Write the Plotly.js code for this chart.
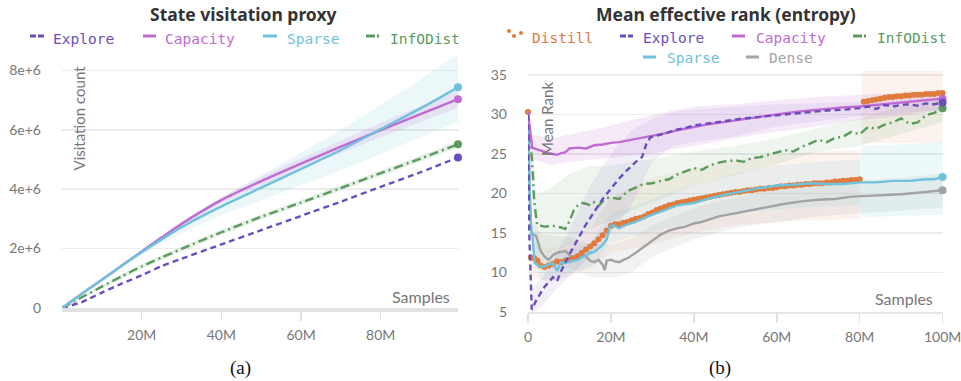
<!DOCTYPE html>
<html><head><meta charset="utf-8">
<script src="https://cdn.plot.ly/plotly-3.0.1.min.js"></script>
<style>html,body{margin:0;padding:0;background:#fff}#chart{width:961px;height:381px}</style>
</head><body><div id="chart"></div>
<script>
// ---------- (a) State visitation proxy : x in millions of samples, y in millions of visits ----------
const aX = [0, 5, 10, 15, 20, 25, 30, 40, 50, 60, 70, 80, 90, 99.4];
const aExplore  = [0, 0.2, 0.52, 0.82, 1.1, 1.41, 1.66, 2.14, 2.62, 3.1, 3.58, 4.08, 4.57, 5.07];
const aInfODist = [0, 0.36, 0.72, 1.07, 1.4, 1.7, 1.99, 2.55, 3.07, 3.55, 4.04, 4.54, 5.03, 5.51];
const aCapacity = [0, 0.48, 0.95, 1.43, 1.9, 2.37, 2.83, 3.63, 4.27, 4.86, 5.43, 5.99, 6.53, 7.03];
const aSparse   = [0, 0.48, 0.95, 1.42, 1.88, 2.31, 2.72, 3.42, 4.05, 4.68, 5.32, 6.02, 6.72, 7.43];
const aSparseHi = [0, 0.49, 0.98, 1.48, 1.98, 2.45, 2.92, 3.72, 4.47, 5.23, 6.0, 6.84, 7.69, 8.58];
const aSparseLo = [0, 0.47, 0.92, 1.36, 1.78, 2.17, 2.52, 3.12, 3.63, 4.13, 4.64, 5.2, 5.75, 6.28];
const aCapHi    = [0, 0.49, 0.97, 1.46, 1.95, 2.43, 2.91, 3.74, 4.42, 5.04, 5.64, 6.23, 6.8, 7.33];
const aCapLo    = [0, 0.47, 0.93, 1.4, 1.85, 2.31, 2.75, 3.52, 4.12, 4.68, 5.22, 5.75, 6.26, 6.73];
const aInfHi    = [0, 0.4, 0.78, 1.14, 1.48, 1.78, 2.07, 2.64, 3.16, 3.64, 4.13, 4.64, 5.13, 5.62];
const aInfLo    = [0, 0.32, 0.66, 1.0, 1.32, 1.62, 1.91, 2.46, 2.98, 3.46, 3.95, 4.44, 4.93, 5.4];
const aXTicks = [20, 40, 60, 80];
const aXTickText = ['20M', '40M', '60M', '80M'];
const aYTicks = [0, 2, 4, 6, 8];
const aYTickText = ['0', '2e+6', '4e+6', '6e+6', '8e+6'];

// ---------- (b) Mean effective rank (entropy) : x in millions of samples ----------
const bCapX = [0, 1, 2, 3, 4, 5, 6, 7, 8, 9, 10, 12, 14, 16, 18, 20, 22, 24, 26, 28, 30, 33, 36, 40, 44, 48, 52, 56, 60, 64, 68, 72, 76, 80, 84, 88, 92, 96, 100];
const bCapacity = [30.3, 25.8, 25.6, 25.4, 25.2, 25.1, 25.0, 24.9, 25.1, 25.2, 25.7, 25.8, 25.7, 26.1, 26.2, 26.4, 26.5, 26.7, 26.9, 27.1, 27.3, 27.6, 28.0, 28.4, 28.8, 29.1, 29.4, 29.7, 30.0, 30.3, 30.5, 30.7, 30.9, 31.0, 31.2, 31.4, 31.6, 31.8, 32.0];

const bExpX = [0, 0.3, 0.9, 2, 4, 6, 7, 8, 10, 12, 14, 16, 18, 20, 22, 24, 26, 27.5, 28.5, 29.5, 31, 33, 36, 38, 40, 44, 48, 52, 56, 60, 64, 68, 72, 76, 80, 82, 84, 86, 88, 90, 92, 94, 96, 98, 100];
const bExplore = [30, 15, 5.3, 6.5, 8.2, 9.4, 8.9, 10.2, 12.3, 14.3, 16.1, 17.7, 19.3, 20.6, 21.9, 23.0, 24.0, 24.6, 26.2, 27.1, 27.3, 27.6, 28.1, 28.3, 28.6, 28.9, 29.2, 29.5, 29.7, 29.9, 30.1, 30.3, 30.5, 30.6, 30.8, 31.0, 30.7, 31.2, 31.0, 31.2, 31.3, 31.1, 31.4, 31.3, 31.5];

const bInfX = [0, 0.5, 1, 1.5, 2.2, 4, 6, 8, 9, 10, 11, 12, 13, 14, 15, 16, 17, 18, 19, 20, 22, 24, 26, 28, 30, 32, 34, 36, 38, 40, 42, 44, 46, 48, 50, 52, 54, 56, 58, 60, 62, 64, 66, 68, 70, 72, 74, 76, 78, 80, 82, 84, 86, 88, 90, 92, 94, 96, 98, 100];
const bInfODist = [30, 27, 24, 19, 16.0, 15.8, 15.9, 15.7, 15.5, 16.5, 17.8, 18.5, 18.8, 18.7, 18.5, 18.9, 18.4, 19.0, 19.4, 19.5, 19.3, 20.3, 20.7, 21.2, 21.3, 21.6, 21.8, 22.4, 22.8, 23.2, 23.0, 23.6, 23.9, 24.1, 24.2, 24.0, 24.5, 24.6, 24.9, 25.2, 25.5, 25.3, 25.9, 26.3, 26.8, 26.5, 27.0, 27.2, 27.8, 27.5, 28.4, 28.2, 28.7, 29.0, 29.5, 28.8, 29.0, 29.9, 30.2, 30.8];

const bSpX = [0, 0.4, 0.8, 1.1, 1.6, 3, 4, 5, 6, 7, 8, 9, 10, 11, 12, 13, 14, 15, 16, 17, 18, 19, 19.7, 20.5, 22, 24, 26, 28, 30, 32, 34, 36, 40, 44, 48, 52, 56, 60, 64, 68, 72, 76, 80, 84, 88, 92, 96, 98, 100];
const bSparse = [30, 20, 15, 14.6, 11.2, 10.7, 10.8, 11.0, 11.2, 10.2, 11.3, 11.2, 11.4, 11.5, 11.6, 11.9, 12.1, 12.5, 12.6, 13.0, 13.5, 14.2, 15.8, 16.0, 15.6, 16.1, 16.4, 16.9, 17.3, 17.7, 18.1, 18.5, 18.8, 19.4, 19.9, 20.3, 20.7, 21.0, 21.1, 21.3, 21.2, 21.2, 21.4, 21.4, 21.6, 21.6, 21.8, 21.8, 22.1];

const bDenseX = [0, 0.4, 0.8, 2, 3, 4, 5, 6, 7, 8, 9, 10, 11, 12, 13, 14, 15, 16, 17, 18, 18.5, 19, 20, 21, 22, 23, 24, 26, 28, 30, 32, 34, 36, 38, 40, 42, 44, 46, 48, 50, 54, 58, 62, 66, 70, 74, 78, 82, 86, 90, 94, 98, 100];
const bDense = [30, 20, 15, 14.6, 12.8, 12.0, 11.6, 12.2, 12.5, 12.6, 12.7, 12.2, 11.8, 11.6, 12.3, 12.0, 11.5, 11.3, 11.6, 11.0, 10.3, 11.5, 11.6, 11.4, 11.3, 11.6, 11.8, 12.5, 13.3, 14.1, 14.8, 15.3, 15.6, 15.8, 16.2, 16.4, 16.8, 17.1, 17.3, 17.5, 17.9, 18.3, 18.7, 19.0, 19.2, 19.3, 19.6, 19.7, 19.8, 19.9, 20.1, 20.3, 20.4];

const bDistX = [0, 0.7, 1.5, 2.3, 3, 4, 5, 6, 7, 8, 9, 10, 11, 12, 13, 14, 15, 16, 17, 18, 19, 20, 21, 22, 23, 24, 25, 26, 27, 28, 29, 30, 31, 32, 33, 34, 35, 36, 37, 38, 39, 40, 41, 42, 43, 44, 45, 46, 47, 48, 49, 50, 51, 52, 53, 54, 55, 56, 57, 58, 59, 60, 61, 62, 63, 64, 65, 66, 67, 68, 69, 70, 71, 72, 73, 74, 75, 76, 77, 78, 79, 80,
  81, 82, 83, 84, 85, 86, 87, 88, 89, 90, 91, 92, 93, 94, 95, 96, 97, 98, 99, 100];
const bDistill = [30.3, 11.9, 11.8, 11.5, 10.9, 10.7, 10.9, 11.1, 11.4, 11.3, 11.5, 11.6, 11.8, 12.1, 12.5, 12.9, 13.3, 13.7, 14.2, 14.7, 15.3, 15.9, 16.1, 16.1, 16.3, 16.4, 16.6, 16.8, 16.9, 17.1, 17.4, 17.6, 17.9, 18.1, 18.3, 18.5, 18.6, 18.8, 18.9, 19.0, 19.1, 19.2, 19.3, 19.4, 19.5, 19.6, 19.7, 19.8, 19.9, 20.0, 20.1, 20.2, 20.2, 20.3, 20.4, 20.4, 20.5, 20.6, 20.6, 20.7, 20.7, 20.8, 20.9, 20.9, 21.0, 21.0, 21.1, 21.1, 21.2, 21.2, 21.3, 21.3, 21.3, 21.4, 21.4, 21.5, 21.5, 21.6, 21.6, 21.7, 21.7, 21.8,
  31.6, 31.7, 31.8, 31.9, 32.0, 32.1, 32.2, 32.2, 32.3, 32.3, 32.4, 32.4, 32.5, 32.5, 32.5, 32.6, 32.6, 32.6, 32.7, 32.7];

// bands (upper / lower edges)
const bCapBX = [0, 1, 3, 6, 10, 15, 20, 25, 30, 35, 40, 50, 60, 70, 80, 90, 100];
const bCapHi = [30.3, 27.5, 27.2, 27.0, 27.5, 28.0, 28.6, 29.3, 29.9, 30.5, 31.0, 31.3, 31.8, 32.2, 32.5, 32.7, 33.0];
const bCapLo = [30.3, 24.3, 24.0, 23.6, 24.0, 24.3, 24.5, 24.8, 25.1, 25.6, 26.0, 27.0, 27.8, 28.5, 29.3, 29.8, 30.6];
const bExpBX = [0, 1, 3, 6, 10, 15, 20, 25, 30, 35, 40, 50, 60, 80, 100];
const bExpHi = [30, 8, 9, 11.5, 15.5, 21, 25, 28, 29.5, 30.3, 30.6, 31, 31.3, 31.6, 32.3];
const bExpLo = [30, 4.8, 5.5, 7.5, 9.5, 12, 15, 18.5, 24, 26, 26.5, 27.2, 28.5, 29.8, 30.6];
const bInfBX = [0, 1, 2, 5, 10, 15, 20, 25, 30, 40, 50, 60, 70, 80, 90, 100];
const bInfHi = [30, 27, 20, 20.5, 22.5, 23.5, 23.5, 24, 24.3, 25.3, 26, 27, 28.3, 29.5, 31, 32];
const bInfLo = [30, 20, 13, 12.5, 13.5, 15.5, 16.5, 17.8, 18.8, 21, 22.3, 23.7, 25.3, 26, 27.5, 29];
const bSpBX = [0, 1, 3, 10, 15, 20, 25, 30, 40, 50, 60, 70, 80, 80.5, 90, 100];
const bSpHi = [30, 16, 12.5, 13, 13.8, 17.5, 18.3, 19.3, 21, 22.5, 23.5, 24, 24.3, 26, 26.2, 26.5];
const bSpLo = [30, 13, 9, 9.8, 10.8, 13.8, 14.5, 15.2, 16.3, 17.5, 18, 18.3, 18.5, 17, 17.1, 17.3];
const bDenBX = [0, 1, 3, 10, 15, 20, 25, 30, 40, 50, 60, 70, 80, 90, 100];
const bDenHi = [30, 17, 14.8, 14.5, 13.5, 13.5, 14.3, 16.0, 18.2, 19.5, 20.6, 21.2, 21.6, 22.0, 22.5];
const bDenLo = [30, 13, 10.5, 10.5, 9.5, 9.3, 10.0, 12.0, 14.2, 15.6, 16.4, 17.1, 17.5, 17.8, 18.2];
const bDisBX = [0.7, 5, 10, 15, 20, 30, 40, 50, 60, 70, 80];
const bDisHi = [13.5, 13.0, 13.5, 15.5, 19.5, 22.0, 23.2, 24.2, 25.0, 25.3, 25.5];
const bDisLo = [9.5, 8.8, 9.5, 10.5, 12.5, 13.5, 15.0, 16.0, 16.4, 16.6, 16.8];
const bDisBX2 = [80.5, 100];
const bDisHi2 = [37, 37];
const bDisLo2 = [26.4, 26.4];

const bXTicks = [0, 20, 40, 60, 80, 100];
const bXTickText = ['0', '20M', '40M', '60M', '80M', '100M'];
const bYTicks = [5, 10, 15, 20, 25, 30, 35];

// ---------- styling ----------
const C = {explore:'#6a4fbc', capacity:'#c06bd1', sparse:'#6ec2db', infodist:'#5b9b5e', distill:'#e07b3e', dense:'#a3a3a6'};
const W = 961, H = 381;
const px = v => v / W, py = v => 1 - v / H;
function rgba(hex, a){const n=parseInt(hex.slice(1),16);return `rgba(${n>>16},${(n>>8)&255},${n&255},${a})`;}
const DASH_EXP = '6px,4px', DASH_INF = '9px,4px,2px,4px';

const traces = [];
function band(x, hi, lo, col, a, xa, ya){
  traces.push({x: x.concat(x.slice().reverse()), y: hi.concat(lo.slice().reverse()), fill:'toself', mode:'lines',
    line:{width:0}, fillcolor: rgba(col, a), hoverinfo:'skip', showlegend:false, xaxis:xa, yaxis:ya});
}
function line(x, y, col, dash, xa, ya, shape){
  traces.push({x, y, mode:'lines', line:{color:col, width:2.4, dash:dash||'solid', shape:shape||'linear', smoothing:0.6}, showlegend:false, xaxis:xa, yaxis:ya});
}
function endDot(x, y, col, xa, ya){
  traces.push({x:[x[x.length-1]], y:[y[y.length-1]], mode:'markers', marker:{color:col, size:8}, cliponaxis:false, showlegend:false, xaxis:xa, yaxis:ya});
}

// (a)
band(aX, aSparseHi, aSparseLo, C.sparse, 0.13, 'x', 'y');
band(aX, aCapHi, aCapLo, C.capacity, 0.15, 'x', 'y');
band(aX, aInfHi, aInfLo, C.infodist, 0.15, 'x', 'y');
line(aX, aExplore, C.explore, DASH_EXP, 'x', 'y', 'spline');
line(aX, aInfODist, C.infodist, DASH_INF, 'x', 'y', 'spline');
line(aX, aCapacity, C.capacity, 'solid', 'x', 'y', 'spline');
line(aX, aSparse, C.sparse, 'solid', 'x', 'y', 'spline');
endDot(aX, aExplore, C.explore, 'x', 'y');
endDot(aX, aInfODist, C.infodist, 'x', 'y');
endDot(aX, aCapacity, C.capacity, 'x', 'y');
endDot(aX, aSparse, C.sparse, 'x', 'y');

// (b)
band(bDisBX, bDisHi, bDisLo, C.distill, 0.09, 'x2', 'y2');
band(bDisBX2, bDisHi2, bDisLo2, C.distill, 0.09, 'x2', 'y2');
band(bDenBX, bDenHi, bDenLo, C.dense, 0.14, 'x2', 'y2');
band(bSpBX, bSpHi, bSpLo, C.sparse, 0.12, 'x2', 'y2');
band(bInfBX, bInfHi, bInfLo, C.infodist, 0.1, 'x2', 'y2');
band(bExpBX, bExpHi, bExpLo, C.explore, 0.09, 'x2', 'y2');
band(bCapBX, bCapHi, bCapLo, C.capacity, 0.14, 'x2', 'y2');
line(bDenseX, bDense, C.dense, 'solid', 'x2', 'y2');
traces.push({x:bDistX, y:bDistill, mode:'markers', marker:{color:C.distill, size:6}, cliponaxis:false, showlegend:false, xaxis:'x2', yaxis:'y2'});
line(bSpX, bSparse, C.sparse, 'solid', 'x2', 'y2');
line(bInfX, bInfODist, C.infodist, DASH_INF, 'x2', 'y2');
line(bCapX, bCapacity, C.capacity, 'solid', 'x2', 'y2');
line(bExpX, bExplore, C.explore, DASH_EXP, 'x2', 'y2');
endDot(bDenseX, bDense, C.dense, 'x2', 'y2');
endDot(bSpX, bSparse, C.sparse, 'x2', 'y2');
endDot(bInfX, bInfODist, C.infodist, 'x2', 'y2');
endDot(bCapX, bCapacity, C.capacity, 'x2', 'y2');
endDot(bExpX, bExplore, C.explore, 'x2', 'y2');

// ---------- legends, titles and labels ----------
const shapes = [], ann = [];
const MONO = {family:'DejaVu Sans Mono', size:14.5};
function legItem(x0, x1, y, textX, textY, label, col, dash){
  shapes.push({type:'line', xref:'paper', yref:'paper', x0:px(x0), x1:px(x1), y0:py(y), y1:py(y), line:{color:col, width:3, dash:dash||'solid'}});
  ann.push({text:label, xref:'paper', yref:'paper', x:px(textX), y:py(textY), xanchor:'left', yanchor:'middle', showarrow:false, font:Object.assign({color:col}, MONO)});
}
legItem(30, 44, 36, 51, 39, 'Explore', C.explore, '6px,2px');
legItem(143, 156, 36, 163, 39, 'Capacity', C.capacity);
legItem(263, 277, 36, 285, 39, 'Sparse', C.sparse);
legItem(366, 380, 36, 388, 39, 'InfODist', C.infodist, '9px,2px,2px,2px');
// Distill dots icon
[[509,31],[514,36],[521,33]].forEach(([cx,cy]) => shapes.push({type:'circle', xref:'paper', yref:'paper', x0:px(cx-2), x1:px(cx+2), y0:py(cy+2), y1:py(cy-2), fillcolor:C.distill, line:{width:0}}));
ann.push({text:'Distill', xref:'paper', yref:'paper', x:px(530), y:py(38), xanchor:'left', yanchor:'middle', showarrow:false, font:Object.assign({color:C.distill}, MONO)});
legItem(620, 633, 36, 641, 38, 'Explore', C.explore, '6px,2px');
legItem(732, 745, 36, 754, 38, 'Capacity', C.capacity);
legItem(853, 867, 36, 875, 38, 'InfODist', C.infodist, '9px,2px,2px,2px');
legItem(643, 656, 57, 665, 58, 'Sparse', C.sparse);
legItem(746, 759, 57, 767, 58, 'Dense', C.dense);

const TITLE = {family:'Noto Sans', size:17.5, color:'#333', weight:700};
ann.push({text:'State visitation proxy', xref:'paper', yref:'paper', x:px(243), y:py(14), xanchor:'center', yanchor:'middle', showarrow:false, font:TITLE});
ann.push({text:'Mean effective rank (entropy)', xref:'paper', yref:'paper', x:px(726), y:py(14), xanchor:'center', yanchor:'middle', showarrow:false, font:TITLE});
const LBL = {family:'Lato', size:15, color:'#777'};
ann.push({text:'Visitation count', xref:'paper', yref:'paper', x:px(78), y:py(64), xanchor:'center', yanchor:'top', textangle:-90, showarrow:false, font:LBL});
ann.push({text:'Mean Rank', xref:'paper', yref:'paper', x:px(547), y:py(80), xanchor:'center', yanchor:'top', textangle:-90, showarrow:false, font:LBL});
ann.push({text:'Samples', xref:'paper', yref:'paper', x:px(421), y:py(296), xanchor:'center', yanchor:'middle', showarrow:false, font:{family:'Lato', size:16, color:'#777'}});
ann.push({text:'Samples', xref:'paper', yref:'paper', x:px(904), y:py(298), xanchor:'center', yanchor:'middle', showarrow:false, font:{family:'Lato', size:16, color:'#777'}});
const CAP = {family:'Liberation Serif', size:19, color:'#111'};
ann.push({text:'(a)', xref:'paper', yref:'paper', x:px(240), y:py(368), xanchor:'center', yanchor:'middle', showarrow:false, font:CAP});
ann.push({text:'(b)', xref:'paper', yref:'paper', x:px(720), y:py(368), xanchor:'center', yanchor:'middle', showarrow:false, font:CAP});

const TICKF = {family:'Lato', size:14, color:'#777'};
const layout = {
  width:W, height:H, margin:{l:0, r:0, t:0, b:0}, paper_bgcolor:'#fff', plot_bgcolor:'#fff', showlegend:false,
  xaxis:{domain:[px(62), px(458)], range:[0, 99.4], tickvals:aXTicks, ticktext:aXTickText, showgrid:false, zeroline:false,
    showline:true, linecolor:'#e2e2e2', linewidth:4, ticks:'outside', ticklen:9, tickcolor:'#e2e2e2', tickwidth:1.5,
    tickfont:TICKF, ticklabelstandoff:2, automargin:false, anchor:'y'},
  yaxis:{domain:[py(308), py(57)], range:[0, 8.45], tickvals:aYTicks, ticktext:aYTickText, showgrid:true, gridcolor:'#ececec',
    gridwidth:1.5, zeroline:false, showline:false, ticks:'', tickfont:TICKF, ticklabelstandoff:20, automargin:false, anchor:'x'},
  xaxis2:{domain:[px(528), px(943)], range:[0, 100.1], tickvals:bXTicks, ticktext:bXTickText, showgrid:false, zeroline:false,
    showline:true, linecolor:'#e6e6e6', linewidth:2, ticks:'outside', ticklen:9, tickcolor:'#e2e2e2', tickwidth:1.5,
    tickfont:TICKF, ticklabelstandoff:2, ticklabeloverflow:'allow', automargin:false, anchor:'y2'},
  yaxis2:{domain:[py(312), py(71)], range:[5, 35.5], tickvals:bYTicks, showgrid:true, gridcolor:'#ececec', gridwidth:1.5,
    zeroline:false, showline:false, ticks:'', tickfont:TICKF, ticklabelstandoff:20, automargin:false, anchor:'x2'},
  shapes, annotations:ann
};
Plotly.newPlot('chart', traces, layout, {displayModeBar:false, staticPlot:true});
</script></body></html>
